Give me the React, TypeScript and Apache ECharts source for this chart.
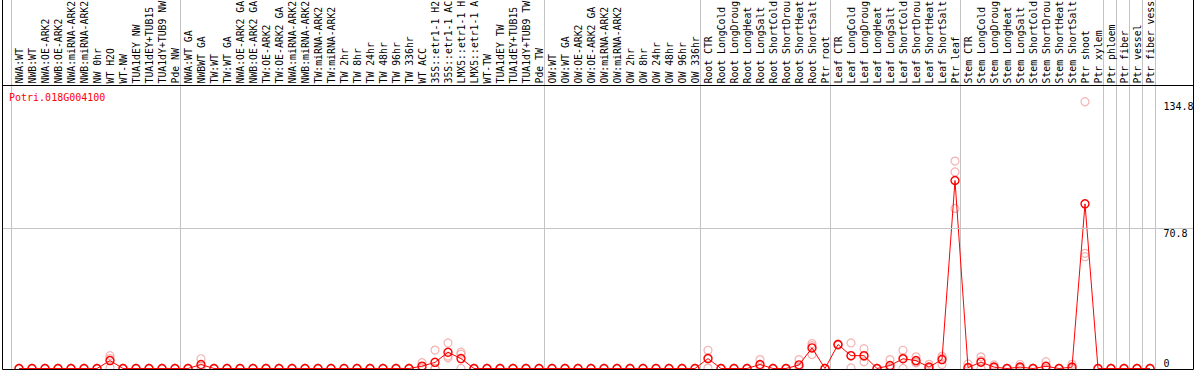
import React, { useEffect, useRef } from "react";
import * as echarts from "echarts";

const categories = [
  "NWA:WT", "NWB:WT", "NWA:OE-ARK2", "NWB:OE-ARK2", "NWA:miRNA-ARK2", "NWB:miRNA-ARK2",
  "NW 0hr", "WT H2O", "WT-NW", "TUA1dEY NW", "TUA1dEY+TUB15 NW", "TUA1dY+TUB9 NW", "Pde NW",
  "NWA:WT GA", "NWBWT GA", "TW:WT", "TW:WT GA", "NWA:OE-ARK2 GA", "NWB:OE-ARK2 GA",
  "TW:OE-ARK2", "TW:OE-ARK2 GA", "NWA:miRNA-ARK2 GA", "NWB:miRNA-ARK2 GA", "TW:miRNA-ARK2",
  "TW:miRNA-ARK2 GA", "TW 2hr", "TW 8hr", "TW 24hr", "TW 48hr", "TW 96hr", "TW 336hr",
  "WT ACC", "35S::etr1-1 H2O", "35S::etr1-1 ACC", "LMX5::etr1-1 H2O", "LMX5::etr1-1 ACC",
  "WT-TW", "TUA1dEY TW", "TUA1dEY+TUB15 TW", "TUA1dY+TUB9 TW", "Pde TW",
  "OW:WT", "OW:WT GA", "OW:OE-ARK2", "OW:OE-ARK2 GA", "OW:miRNA-ARK2", "OW:miRNA-ARK2 GA",
  "OW 2hr", "OW 8hr", "OW 24hr", "OW 48hr", "OW 96hr", "OW 336hr",
  "Root CTR", "Root LongCold", "Root LongDrought", "Root LongHeat", "Root LongSalt",
  "Root ShortCold", "Root ShortDrought", "Root ShortHeat", "Root ShortSalt", "Ptr root",
  "Leaf CTR", "Leaf LongCold", "Leaf LongDrought", "Leaf LongHeat", "Leaf LongSalt",
  "Leaf ShortCold", "Leaf ShortDrought", "Leaf ShortHeat", "Leaf ShortSalt", "Ptr leaf",
  "Stem CTR", "Stem LongCold", "Stem LongDrought", "Stem LongHeat", "Stem LongSalt",
  "Stem ShortCold", "Stem ShortDrought", "Stem ShortHeat", "Stem ShortSalt", "Ptr shoot",
  "Ptr xylem", "Ptr phloem", "Ptr fiber", "Ptr vessel", "Ptr fiber vessel",
];

// mean expression per sample
const means = [
  0, 0, 0, 0, 0, 0, 0, 4, 0, 0, 0, 0, 0,
  0, 2, 0, 0, 0, 0, 0, 0, 0, 0, 0, 0, 0, 0, 0, 0, 0, 0, 1.2, 3.1, 8.2, 5, 0, 0, 0, 0, 0, 0,
  0, 0, 0, 0, 0, 0, 0, 0, 0, 0, 0, 0,
  5, 0, 0, 0, 2, 0, 0, 1.8, 10.4, 0,
  12.1, 6.5, 6.5, 0, 1.5, 4.9, 4, 0.7, 4.5, 95,
  0.5, 3.2, 0.7, 0, 0.7, 0, 1.1, 0, 0.7, 83.2,
  0, 0, 0, 0, 0,
];

// replicate values
const rep1 = [
  0, 0, 0, 0, 0, 0, 0, 6.5, 0, 0, 0, 0, 0,
  0, 4.9, 0, 0, 0, 0, 0, 0, 0, 0, 0, 0, 0, 0, 0, 0, 0, 0, 2.9, 9.3, 12.9, 8.2, 0, 0, 0, 0, 0, 0,
  0, 0, 0, 0, 0, 0, 0, 0, 0, 0, 0, 0,
  9.2, 0, 0, 0, 4.5, 0, 0, 4.5, 12.6, 0,
  12.4, 12.9, 10, 0, 4.5, 9.2, 5.9, 2.1, 6.2, 104.8,
  2.3, 5.9, 1.8, 0, 2, 0, 3.4, 0, 2.1, 134.8,
  0, 0, 0, 0, 0,
];
const rep2 = [
  0, 0, 0, 0, 0, 0, 0, 5, 0, 0, 0, 0, 0,
  0, 1, 0, 0, 0, 0, 0, 0, 0, 0, 0, 0, 0, 0, 0, 0, 0, 0, 0.6, 0, 6.3, 7.2, 0, 0, 0, 0, 0, 0,
  0, 0, 0, 0, 0, 0, 0, 0, 0, 0, 0, 0,
  5.5, 0, 0, 0, 1.5, 0, 0, 0.9, 11.5, 0,
  12.1, 6.3, 6.1, 0, 0, 5.5, 3.2, 0, 5.3, 99.3,
  0, 4, 0.3, 0, 0, 0, 0, 0, 0, 58.2,
  0, 0, 0, 0, 0,
];
const rep3 = [
  0, 0, 0, 0, 0, 0, 0, 0.5, 0, 0, 0, 0, 0,
  0, 0.1, 0, 0, 0, 0, 0, 0, 0, 0, 0, 0, 0, 0, 0, 0, 0, 0, 0.1, 0, 5.4, 0, 0, 0, 0, 0, 0, 0,
  0, 0, 0, 0, 0, 0, 0, 0, 0, 0, 0, 0,
  0.2, 0, 0, 0, 0, 0, 0, 0, 7.1, 0,
  11.8, 0.3, 3.4, 0, 0, 0, 2.9, 0, 2, 80.9,
  0, 0, 0, 0, 0, 0, 0, 0, 0, 56.5,
  0, 0, 0, 0, 0,
];

// first category index of each separated group
const groupStarts = [0, 13, 41, 53, 63, 73, 84, 85, 86, 87];
const yTopLabels = [70.8, 134.8];
const yBottomLabels = [0];
const yGridValue = 70.8;
const yMax = 143;
const geneId = "Potri.018G004100";

export default function App() {
  const ref = useRef<HTMLDivElement>(null);
  useEffect(() => {
    const chart = echarts.init(ref.current!, null, { renderer: "svg" });
    const font = "'DejaVu Sans Mono', 'Liberation Mono', monospace";
    const replicates: number[][] = [];
    categories.forEach((_, i) => {
      [rep1, rep2, rep3].forEach((r) => replicates.push([i, r[i]]));
    });
    const yLabelBase = {
      fontFamily: font,
      fontSize: 10,
      color: "#000",
      align: "left",
      margin: 7,
    };
    chart.setOption({
      animation: false,
      grid: [
        { left: 12.5, right: 37.5, top: 85.5, bottom: 1.5, outerBoundsMode: "none", containLabel: false },
        { left: 11.3, right: 38.7, top: 0, bottom: 0.5, outerBoundsMode: "none", containLabel: false },
        { left: 2.5, right: 0.5, top: 85.5, bottom: 1.5, outerBoundsMode: "none", containLabel: false },
      ],
      xAxis: [
        {
          type: "category",
          gridIndex: 0,
          data: categories,
          position: "top",
          boundaryGap: true,
          axisLine: { show: false },
          axisTick: { show: false },
          splitLine: { show: false },
          axisLabel: {
            rotate: 90,
            interval: 0,
            margin: 2,
            fontFamily: font,
            fontSize: 9.8,
            color: "#000",
            width: 86,
            overflow: "truncate",
            ellipsis: "",
          },
        },
        {
          type: "category",
          gridIndex: 1,
          data: categories,
          boundaryGap: true,
          axisLine: { show: false },
          axisTick: { show: false },
          axisLabel: { show: false },
          splitLine: {
            show: true,
            interval: (idx: number) => groupStarts.includes(idx),
            lineStyle: { color: "#c4c4c4", width: 1 },
          },
        },
        { type: "value", gridIndex: 2, show: false, min: 0, max: 1 },
      ],
      yAxis: [
        {
          type: "value",
          gridIndex: 0,
          min: 0,
          max: yMax,
          position: "right",
          axisLine: { show: false },
          axisTick: { show: false },
          splitLine: { show: false },
          axisLabel: { ...yLabelBase, customValues: yTopLabels, verticalAlign: "top" },
        },
        {
          type: "value",
          gridIndex: 0,
          min: 0,
          max: yMax,
          position: "right",
          axisLine: { show: false },
          axisTick: { show: false },
          splitLine: { show: false },
          axisLabel: { ...yLabelBase, customValues: yBottomLabels, verticalAlign: "bottom" },
        },
        { type: "value", gridIndex: 1, show: false },
        { type: "value", gridIndex: 2, show: false, min: 0, max: yMax },
      ],
      series: [
        {
          type: "line",
          xAxisIndex: 2,
          yAxisIndex: 3,
          data: [],
          silent: true,
          markLine: {
            silent: true,
            symbol: "none",
            label: { show: false },
            lineStyle: { color: "#c4c4c4", type: "solid", width: 1 },
            data: [{ yAxis: yGridValue }],
          },
        },
        {
          type: "scatter",
          xAxisIndex: 0,
          yAxisIndex: 0,
          data: replicates,
          symbol: "circle",
          symbolSize: 8,
          itemStyle: { color: "rgba(0,0,0,0)", borderColor: "#f0a0a0", borderWidth: 1.2 },
          z: 3,
          silent: true,
        },
        {
          type: "line",
          xAxisIndex: 0,
          yAxisIndex: 0,
          data: means,
          symbol: "circle",
          symbolSize: 8,
          showAllSymbol: true,
          itemStyle: { color: "rgba(0,0,0,0)", borderColor: "#ff0000", borderWidth: 1.4 },
          lineStyle: { color: "#ff0000", width: 1 },
          z: 4,
          silent: true,
        },
      ],
      graphic: [
        {
          type: "polyline",
          z: 100,
          shape: { points: [[2.5, 0], [2.5, 369.5], [1193.5, 369.5], [1193.5, 0]] },
          style: { fill: "none", stroke: "#000", lineWidth: 1 },
        },
        {
          type: "line",
          z: 100,
          shape: { x1: 2.5, y1: 85.5, x2: 1193.5, y2: 85.5 },
          style: { stroke: "#000", lineWidth: 1 },
        },
        {
          type: "text",
          x: 9,
          y: 97,
          z: 100,
          style: {
            text: geneId,
            fill: "#ff0000",
            font: "10px 'DejaVu Sans Mono', monospace",
            verticalAlign: "middle",
          },
        },
      ],
    });
    return () => chart.dispose();
  }, []);
  return (
    <div
      ref={ref}
      style={{ position: "absolute", left: 0, top: 0, width: 1194, height: 370 }}
    />
  );
}
